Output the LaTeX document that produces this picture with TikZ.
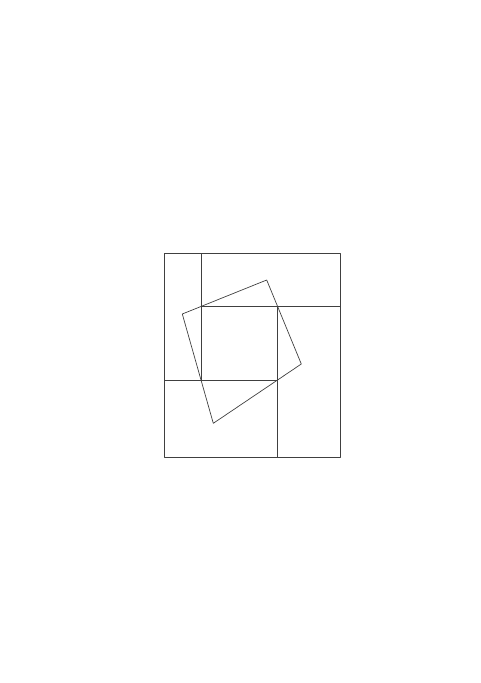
\documentclass[tikz,border=0pt]{standalone}
\usepackage{tikz}

\begin{document}
\begin{tikzpicture}[x=1pt,y=-1pt]
  \tikzstyle{pen}=[draw=black!75,line width=0.7pt,line join=round]

  \useasboundingbox (0,0) rectangle (480,683);

  % frame corners
  \coordinate (NW) at (164.0,253.3);
  \coordinate (SE) at (340.0,457.7);

  % pinwheel corners
  \coordinate (A) at (201.0,253.3);
  \coordinate (B) at (201.0,380.0);
  \coordinate (C) at (201.0,306.7);
  \coordinate (D) at (340.0,306.7);
  \coordinate (E) at (277.7,306.7);
  \coordinate (F) at (277.7,457.7);
  \coordinate (G) at (164.0,380.0);
  \coordinate (H) at (277.7,380.0);

  % tilted square
  \coordinate (P) at (182.3,314.0);
  \coordinate (Q) at (266.7,280.0);
  \coordinate (R) at (301.3,364.0);
  \coordinate (S) at (213.3,423.3);

  \draw[pen] (NW) rectangle (SE);
  \draw[pen] (A) -- (B);
  \draw[pen] (C) -- (D);
  \draw[pen] (E) -- (F);
  \draw[pen] (G) -- (H);
  \draw[pen] (P) -- (Q) -- (R) -- (S) -- cycle;
\end{tikzpicture}
\end{document}
